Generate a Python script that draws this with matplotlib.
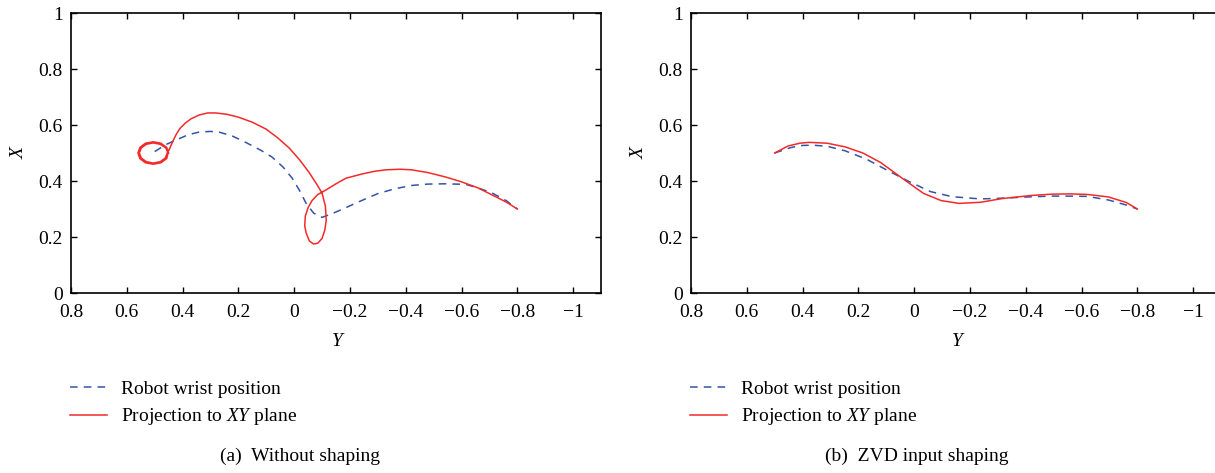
import matplotlib
matplotlib.use("Agg")
import matplotlib.pyplot as plt

plt.rcParams['font.family'] = ['Liberation Serif', 'DejaVu Serif']
plt.rcParams['mathtext.fontset'] = 'custom'
plt.rcParams['mathtext.rm'] = 'Liberation Serif'
plt.rcParams['mathtext.it'] = 'Liberation Serif:italic'

# (a) without shaping - robot wrist (Y, X)
wrist_a_y = [0.50, 0.46, 0.42, 0.38, 0.34, 0.30, 0.27, 0.22, 0.17, 0.12, 0.08, 0.04, 0.007,
             -0.02, -0.043, -0.07, -0.10, -0.14, -0.186, -0.23, -0.30, -0.36, -0.42, -0.48,
             -0.54, -0.615, -0.66, -0.71, -0.76, -0.80]
wrist_a_x = [0.505, 0.53, 0.548, 0.565, 0.575, 0.577, 0.575, 0.56, 0.536, 0.51, 0.486, 0.45, 0.41,
             0.365, 0.32, 0.285, 0.27, 0.285, 0.305, 0.325, 0.355, 0.372, 0.384, 0.389,
             0.39, 0.388, 0.375, 0.357, 0.33, 0.30]

# (a) projection to XY plane (Y, X)
proj_a_y = [0.450, 0.457, 0.478, 0.505, 0.533, 0.553, 0.560, 0.553, 0.533, 0.505,
            0.478, 0.457, 0.452, 0.460, 0.480, 0.505, 0.530, 0.548, 0.555, 0.548, 0.530,
            0.505, 0.480, 0.462, 0.455, 0.448, 0.44, 0.432, 0.422, 0.41, 0.39, 0.37, 0.34,
            0.31, 0.28, 0.24, 0.20, 0.15, 0.10, 0.06, 0.018, -0.02, -0.054, -0.08, -0.10,
            -0.112, -0.115, -0.11, -0.10, -0.085, -0.07, -0.055, -0.043, -0.038, -0.04,
            -0.05, -0.064, -0.085, -0.114, -0.15, -0.186, -0.243, -0.29, -0.33, -0.38,
            -0.42, -0.48, -0.54, -0.60, -0.66, -0.72, -0.76, -0.80]
proj_a_x = [0.500, 0.520, 0.535, 0.540, 0.535, 0.520, 0.500, 0.480, 0.465, 0.460,
            0.465, 0.480, 0.500, 0.518, 0.531, 0.536, 0.531, 0.518, 0.500, 0.482, 0.469,
            0.464, 0.469, 0.482, 0.50, 0.512, 0.53, 0.548, 0.568, 0.587, 0.607, 0.622, 0.636,
            0.643, 0.643, 0.638, 0.628, 0.61, 0.585, 0.555, 0.518, 0.475, 0.43, 0.39, 0.357,
            0.31, 0.26, 0.225, 0.195, 0.178, 0.175, 0.185, 0.214, 0.24, 0.275,
            0.305, 0.33, 0.352, 0.368, 0.39, 0.41, 0.425, 0.435, 0.44, 0.442,
            0.44, 0.43, 0.415, 0.397, 0.375, 0.345, 0.325, 0.30]

# (b) ZVD input shaping - robot wrist (Y, X)
wrist_b_y = [0.50, 0.44, 0.40, 0.363, 0.312, 0.248, 0.171, 0.094, 0.018, -0.059, -0.136,
             -0.238, -0.30, -0.366, -0.43, -0.493, -0.56, -0.621, -0.697, -0.761, -0.80]
wrist_b_x = [0.50, 0.52, 0.527, 0.528, 0.524, 0.508, 0.478, 0.437, 0.398, 0.362, 0.344,
             0.336, 0.338, 0.341, 0.344, 0.346, 0.346, 0.345, 0.332, 0.314, 0.30]

# (b) projection to XY plane (Y, X)
proj_b_y = [0.50, 0.452, 0.41, 0.376, 0.312, 0.248, 0.184, 0.12, 0.043, -0.033, -0.097,
            -0.161, -0.238, -0.314, -0.416, -0.493, -0.56, -0.621, -0.697, -0.761, -0.80]
proj_b_x = [0.50, 0.525, 0.535, 0.538, 0.535, 0.522, 0.500, 0.466, 0.41, 0.356, 0.330,
            0.320, 0.324, 0.337, 0.348, 0.353, 0.354, 0.352, 0.343, 0.323, 0.30]

x_ticks = [0.8, 0.6, 0.4, 0.2, 0, -0.2, -0.4, -0.6, -0.8, -1]
x_labels = ['0.8', '0.6', '0.4', '0.2', '0', '\u22120.2', '\u22120.4', '\u22120.6', '\u22120.8', '\u22121']
y_ticks = [0, 0.2, 0.4, 0.6, 0.8, 1]
y_labels = ['0', '0.2', '0.4', '0.6', '0.8', '1']

blue = '#3553a6'
red = '#f32a2a'
fs = 14

W, H = 1215, 473
fig = plt.figure(figsize=(W / 100, H / 100), dpi=100)

panels = [
    (71, wrist_a_y, wrist_a_x, proj_a_y, proj_a_x, '(a)  Without shaping', 300),
    (691, wrist_b_y, wrist_b_x, proj_b_y, proj_b_x, '(b)  ZVD input shaping', 917),
]

for left, wy, wx, py, px, caption, cap_x in panels:
    ax = fig.add_axes([left / W, (H - 293) / H, 530 / W, 280 / H])
    ax.plot(wy, wx, color=blue, lw=1.1, dashes=(5, 4), label='Robot wrist position')
    ax.plot(py, px, color=red, lw=1.1, label='Projection to $\\mathit{XY}$ plane')
    ax.set_xlim(0.8, -1.1)
    ax.set_ylim(0, 1)
    ax.set_xticks(x_ticks)
    ax.set_xticklabels(x_labels)
    ax.set_yticks(y_ticks)
    ax.set_yticklabels(y_labels)
    ax.tick_params(direction='in', length=4, width=1, top=True, right=True,
                   labelsize=fs)
    ax.tick_params(axis='x', pad=8)
    ax.tick_params(axis='y', pad=6)
    for s in ax.spines.values():
        s.set_linewidth(1.2)
    fig.text((left - 52) / W, (H - 153) / H, 'X', style='italic', fontsize=fs,
             ha='center', va='center', rotation=90)
    fig.text((left + 266) / W, (H - 342) / H, 'Y', style='italic', fontsize=fs,
             ha='center', va='center')
    ax.legend(loc='upper left', bbox_to_anchor=((left - 1) / W, (H - 380) / H),
              bbox_transform=fig.transFigure, frameon=False, fontsize=fs,
              borderpad=0, borderaxespad=0, handlelength=1.9, handletextpad=0.7,
              labelspacing=0.45)
    fig.text(cap_x / W, (H - 456) / H, caption, fontsize=fs, ha='center', va='center')

fig.savefig('out.png', dpi=100)
